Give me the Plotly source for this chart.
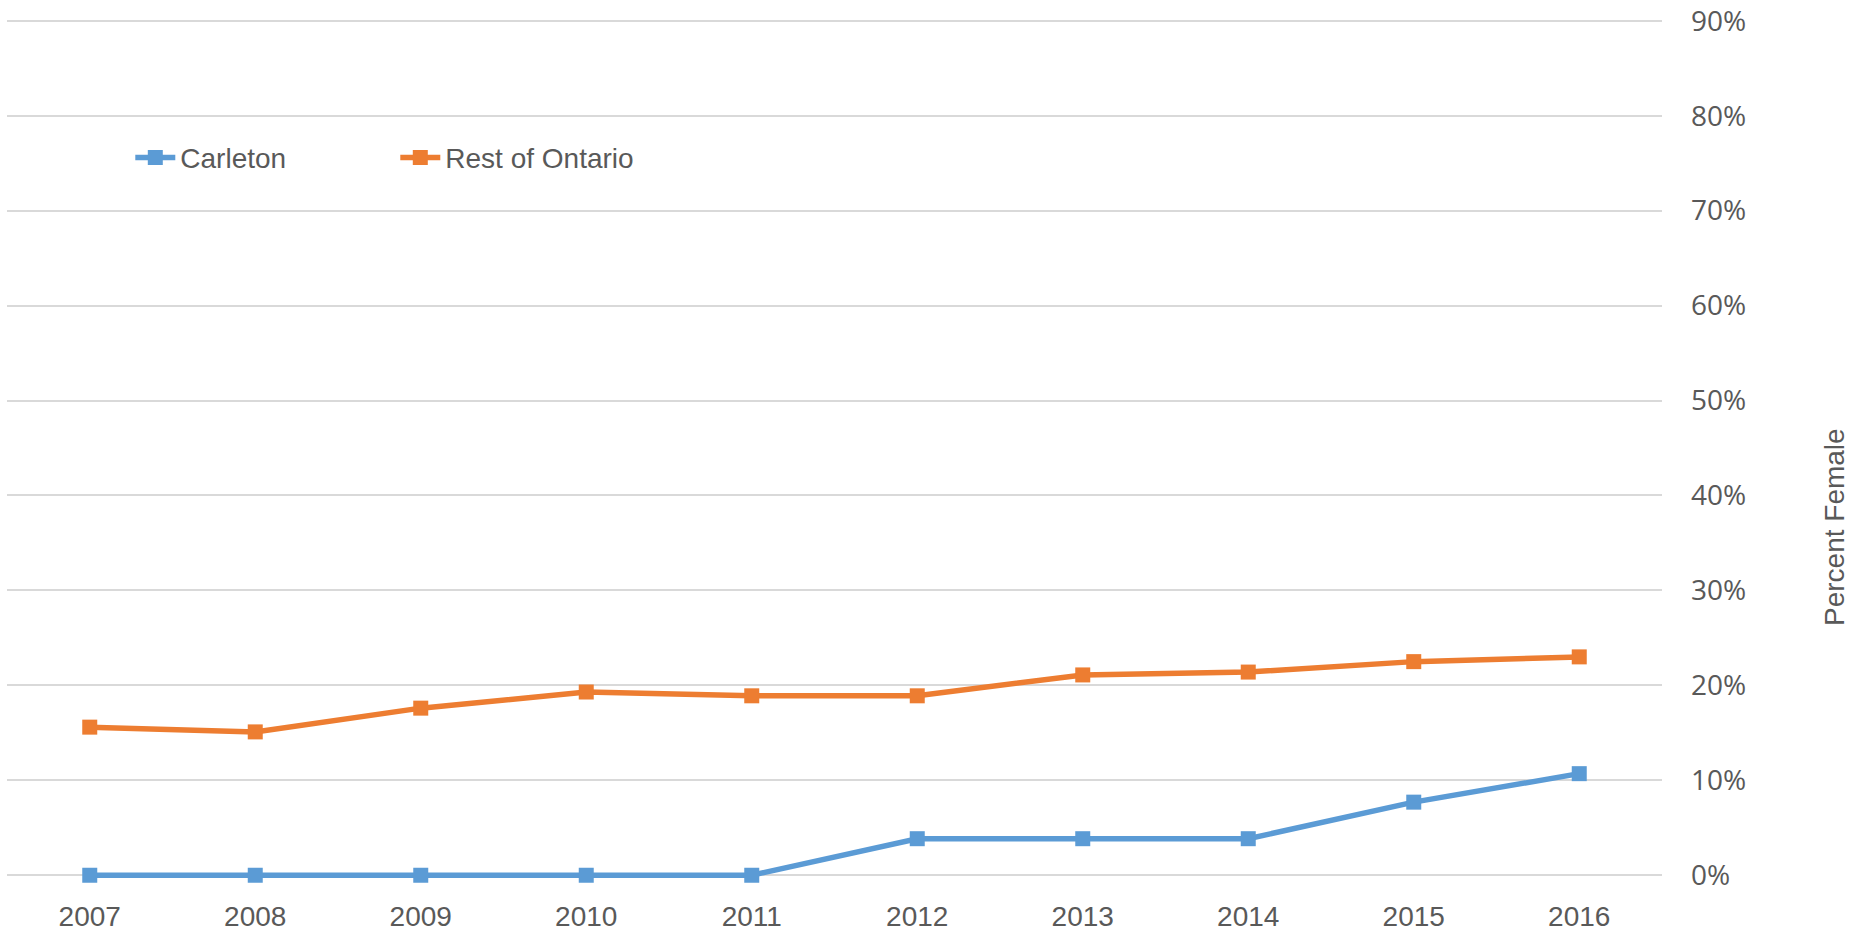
import plotly.graph_objects as go

years = ["2007", "2008", "2009", "2010", "2011", "2012", "2013", "2014", "2015", "2016"]
carleton = [0.0, 0.0, 0.0, 0.0, 0.0, 0.0385, 0.0385, 0.0385, 0.077, 0.107]
rest_of_ontario = [0.156, 0.151, 0.176, 0.193, 0.189, 0.189, 0.211, 0.214, 0.225, 0.230]
y_ticks = [0, 0.1, 0.2, 0.3, 0.4, 0.5, 0.6, 0.7, 0.8, 0.9]

BLUE = "#5B9BD5"
ORANGE = "#ED7D31"
TEXT = "#595959"
GRID = "#D9D9D9"
FONT = "Liberation Sans, Arial, sans-serif"

fig = go.Figure()
fig.add_trace(go.Scatter(
    x=years, y=carleton, name="Carleton", mode="lines+markers",
    line=dict(color=BLUE, width=5.5),
    marker=dict(symbol="square", size=15, color=BLUE),
    cliponaxis=False,
))
fig.add_trace(go.Scatter(
    x=years, y=rest_of_ontario, name="Rest of Ontario", mode="lines+markers",
    line=dict(color=ORANGE, width=5.5),
    marker=dict(symbol="square", size=15, color=ORANGE),
    cliponaxis=False,
))

fig.update_layout(
    width=1858, height=934,
    margin=dict(l=7, r=196, t=15.95, b=53.5, autoexpand=False),
    paper_bgcolor="white", plot_bgcolor="white",
    font=dict(family=FONT, size=28, color=TEXT),
    showlegend=True,
    legend=dict(
        orientation="h", x=0.0745, xanchor="left", y=0.836, yanchor="middle",
        font=dict(family=FONT, size=28, color=TEXT),
        bgcolor="rgba(0,0,0,0)", itemwidth=40, tracegroupgap=0,
        entrywidth=210, entrywidthmode="pixels",
    ),
    annotations=[dict(
        text="Percent Female", textangle=-90, xref="paper", yref="paper",
        x=1.1046, y=0.4087, xanchor="center", yanchor="middle", showarrow=False,
        font=dict(family=FONT, size=28, color=TEXT),
    )],
)
fig.update_xaxes(
    type="category", range=[-0.5, 9.5], showgrid=False, zeroline=False,
    showline=False, ticks="", ticklabelstandoff=17, automargin=False,
    tickfont=dict(family=FONT, size=28, color=TEXT),
)
fig.update_yaxes(
    side="right", range=[-0.005, 0.905], tickvals=y_ticks, tickformat=".0%",
    showgrid=True, gridcolor=GRID, gridwidth=2, zeroline=False, showline=False,
    ticks="", ticklabelstandoff=28, automargin=False, ticklabeloverflow="allow",
    tickfont=dict(family="Open Sans, sans-serif", size=28, color=TEXT),
)

fig.write_html(
    "out.html",
    config={"displayModeBar": False},
    post_script="document.body.style.margin='0';document.body.style.overflow='hidden';",
)
